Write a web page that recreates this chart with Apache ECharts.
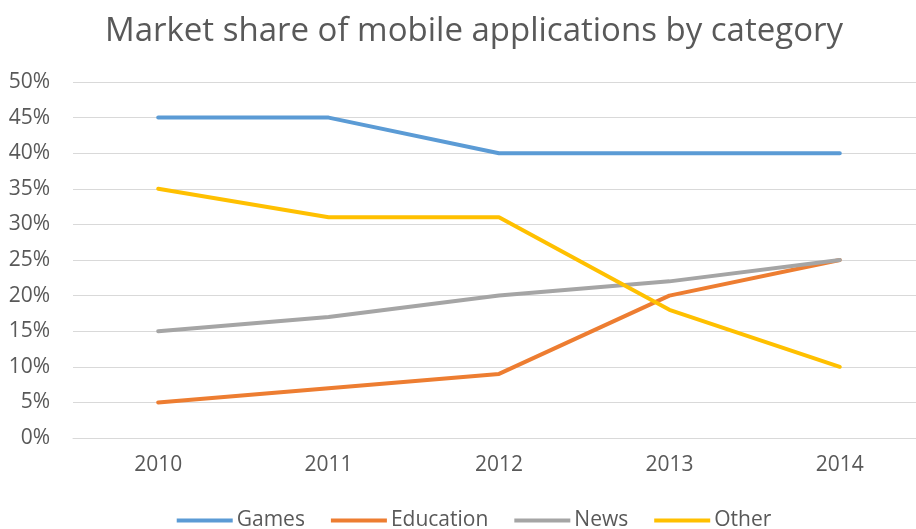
<!DOCTYPE html>
<html><head><meta charset="utf-8">
<script src="https://cdn.jsdelivr.net/npm/echarts@6/dist/echarts.min.js"></script>
<style>html,body{margin:0;padding:0;background:#fff;overflow:hidden;width:916px;height:529px}#c{width:948px;height:529px}</style>
</head><body><div id="c"></div>
<script>
const categories = ['2010','2011','2012','2013','2014'];
const games = [45,45,40,40,40];
const education = [5,7,9,20,25];
const news = [15,17,20,22,25];
const other = [35,31,31,18,10];
const seriesNames = ['Games','Education','News','Other'];
const colors = ['#5B9BD5','#ED7D31','#A5A5A5','#FFC000'];
const dataSets = [games, education, news, other];

const chart = echarts.init(document.getElementById('c'));
const FONT = '"Open Sans", "Noto Sans", sans-serif';
chart.setOption({
  animation:false,
  title:{text:'Market share of mobile applications by category',left:'center',top:10,
    textStyle:{fontFamily:FONT,fontSize:33,fontWeight:'normal',color:'#595959'}},
  legend:{bottom:-7,left:'center',itemWidth:56,itemHeight:4,itemGap:26,icon:'rect',
    textStyle:{fontFamily:FONT,fontSize:21,color:'#595959',padding:[0,0,0,-1]},
    data:seriesNames},
  grid:{left:73,right:23,top:82,bottom:91,containLabel:false},
  xAxis:{type:'category',data:categories,boundaryGap:true,
    axisLine:{lineStyle:{color:'#D9D9D9',width:1}},axisTick:{show:false},
    axisLabel:{fontFamily:FONT,fontSize:21,color:'#595959',margin:17}},
  yAxis:{type:'value',min:0,max:50,interval:5,
    axisLabel:{formatter:'{value}%',fontFamily:FONT,fontSize:21,color:'#595959',margin:23},
    splitLine:{lineStyle:{color:'#D9D9D9',width:1}},axisLine:{show:false},axisTick:{show:false}},
  series: seriesNames.map((n,i)=>({name:n,type:'line',data:dataSets[i],showSymbol:false,symbol:'none',
    lineStyle:{width:4,color:colors[i],cap:'round',join:'round'},itemStyle:{color:colors[i]}}))
});
</script></body></html>
